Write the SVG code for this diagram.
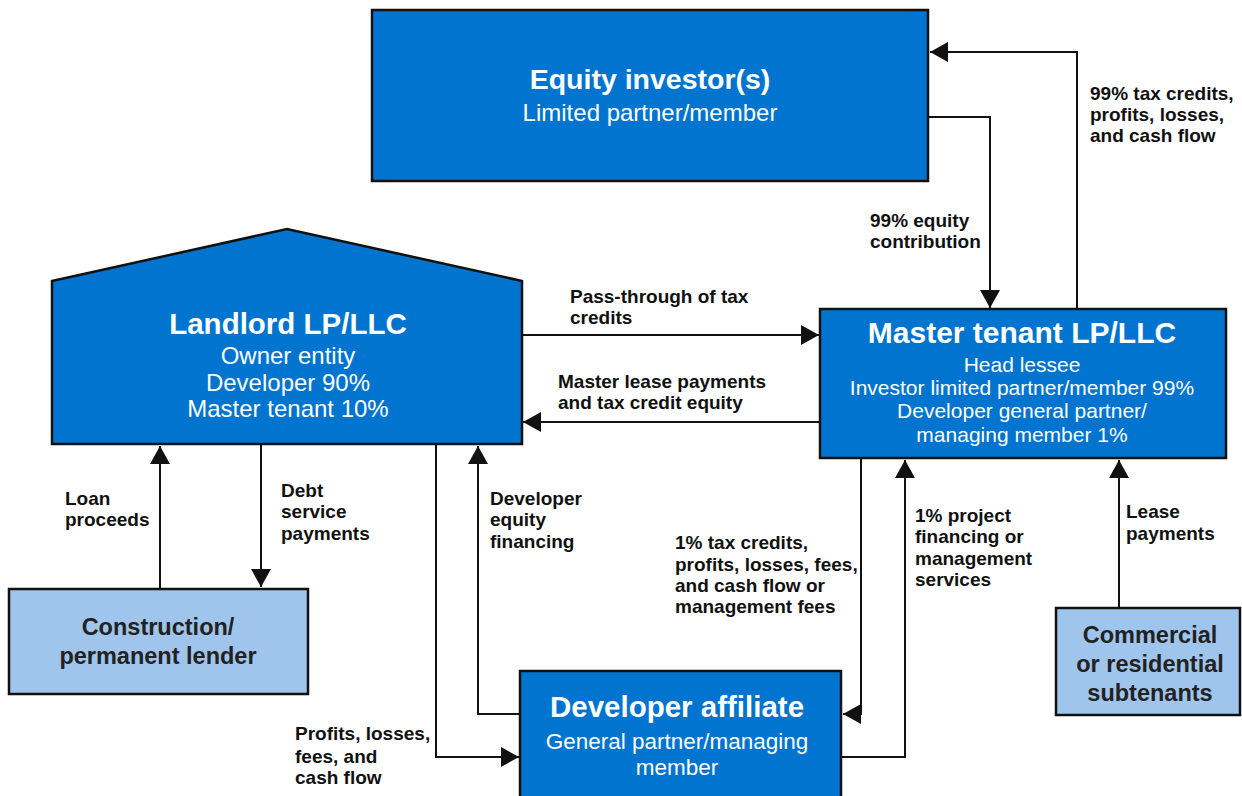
<svg xmlns="http://www.w3.org/2000/svg" width="1242" height="796" viewBox="0 0 1242 796">
<style>
.dark{fill:#0074CF;stroke:#111;stroke-width:2.5}
.light{fill:#A0C5EC;stroke:#111;stroke-width:2.5}
.t{font-family:"Liberation Sans",Arial,sans-serif;font-weight:bold;font-size:29.5px;fill:#fff;text-anchor:middle}
.s{font-family:"Liberation Sans",Arial,sans-serif;font-size:24px;fill:#fff;text-anchor:middle}
.lt{font-family:"Liberation Sans",Arial,sans-serif;font-weight:bold;font-size:23.5px;fill:#222;text-anchor:middle}
.lb{font-family:"Liberation Sans",Arial,sans-serif;font-weight:bold;font-size:19px;fill:#111}
.c{fill:none;stroke:#111;stroke-width:2}
</style>
<defs>
<marker id="ah" markerUnits="userSpaceOnUse" markerWidth="20" markerHeight="20" refX="18" refY="10" orient="auto">
<path d="M0,0 L18,10 L0,20 z" fill="#111"/>
</marker>
</defs>
<rect width="1242" height="796" fill="#fff"/>
<g id="connectors">
<path class="c" d="M928,117 H990 V308" marker-end="url(#ah)"/>
<path class="c" d="M1077,309 V52 H930" marker-end="url(#ah)"/>
<path class="c" d="M522,335 H819" marker-end="url(#ah)"/>
<path class="c" d="M820,422 H523" marker-end="url(#ah)"/>
<path class="c" d="M160,589 V446" marker-end="url(#ah)"/>
<path class="c" d="M261,444 V587" marker-end="url(#ah)"/>
<path class="c" d="M436,444 V757 H519" marker-end="url(#ah)"/>
<path class="c" d="M520,714 H478 V446" marker-end="url(#ah)"/>
<path class="c" d="M861,458 V714 H843" marker-end="url(#ah)"/>
<path class="c" d="M841,757 H905 V460" marker-end="url(#ah)"/>
<path class="c" d="M1119,608 V460" marker-end="url(#ah)"/>
</g>
<g id="labels">
<text class="lb" x="1090" y="100">99% tax credits,</text>
<text class="lb" x="1090" y="121">profits, losses,</text>
<text class="lb" x="1090" y="142">and cash flow</text>
<text class="lb" x="870" y="227">99% equity</text>
<text class="lb" x="870" y="248">contribution</text>
<text class="lb" x="570" y="303">Pass-through of tax</text>
<text class="lb" x="570" y="324">credits</text>
<text class="lb" x="558" y="388">Master lease payments</text>
<text class="lb" x="558" y="409">and tax credit equity</text>
<text class="lb" x="65" y="505">Loan</text>
<text class="lb" x="65" y="526">proceeds</text>
<text class="lb" x="281" y="497">Debt</text>
<text class="lb" x="281" y="518">service</text>
<text class="lb" x="281" y="540">payments</text>
<text class="lb" x="490" y="505">Developer</text>
<text class="lb" x="490" y="526">equity</text>
<text class="lb" x="490" y="548">financing</text>
<text class="lb" x="675" y="549">1% tax credits,</text>
<text class="lb" x="675" y="571">profits, losses, fees,</text>
<text class="lb" x="675" y="592">and cash flow or</text>
<text class="lb" x="675" y="613">management fees</text>
<text class="lb" x="915" y="522">1% project</text>
<text class="lb" x="915" y="543">financing or</text>
<text class="lb" x="915" y="565">management</text>
<text class="lb" x="915" y="586">services</text>
<text class="lb" x="1126" y="518">Lease</text>
<text class="lb" x="1126" y="540">payments</text>
<text class="lb" x="295" y="740">Profits, losses,</text>
<text class="lb" x="295" y="763">fees, and</text>
<text class="lb" x="295" y="784">cash flow</text>
</g>
<g id="equity-investor">
<rect class="dark" x="372" y="10" width="556" height="171"/>
<text class="t" x="650" y="89" style="font-size:28.5px">Equity investor(s)</text>
<text class="s" x="650" y="121">Limited partner/member</text>
</g>
<g id="landlord">
<polygon class="dark" points="52,281 287,229 522,281 522,444 52,444"/>
<text class="t" x="288" y="334">Landlord LP/LLC</text>
<text class="s" x="288" y="364">Owner entity</text>
<text class="s" x="288" y="391">Developer 90%</text>
<text class="s" x="288" y="417">Master tenant 10%</text>
</g>
<g id="master-tenant">
<rect class="dark" x="820" y="309" width="406" height="149"/>
<text class="t" x="1022" y="343" style="font-size:30px">Master tenant LP/LLC</text>
<text class="s" x="1022" y="372" style="font-size:21px">Head lessee</text>
<text class="s" x="1022" y="395" style="font-size:21px">Investor limited partner/member 99%</text>
<text class="s" x="1022" y="418" style="font-size:21px">Developer general partner/</text>
<text class="s" x="1022" y="442" style="font-size:21px">managing member 1%</text>
</g>
<g id="lender">
<rect class="light" x="9" y="589" width="299" height="105"/>
<text class="lt" x="158" y="635">Construction/</text>
<text class="lt" x="158" y="664">permanent lender</text>
</g>
<g id="subtenants">
<rect class="light" x="1056" y="608" width="184" height="107"/>
<text class="lt" x="1150" y="643">Commercial</text>
<text class="lt" x="1150" y="672">or residential</text>
<text class="lt" x="1150" y="701">subtenants</text>
</g>
<g id="developer-affiliate">
<rect class="dark" x="520" y="671" width="321" height="135"/>
<text class="t" x="677" y="717">Developer affiliate</text>
<text class="s" x="677" y="749" style="font-size:22.5px">General partner/managing</text>
<text class="s" x="677" y="775" style="font-size:22.5px">member</text>
</g>
</svg>
